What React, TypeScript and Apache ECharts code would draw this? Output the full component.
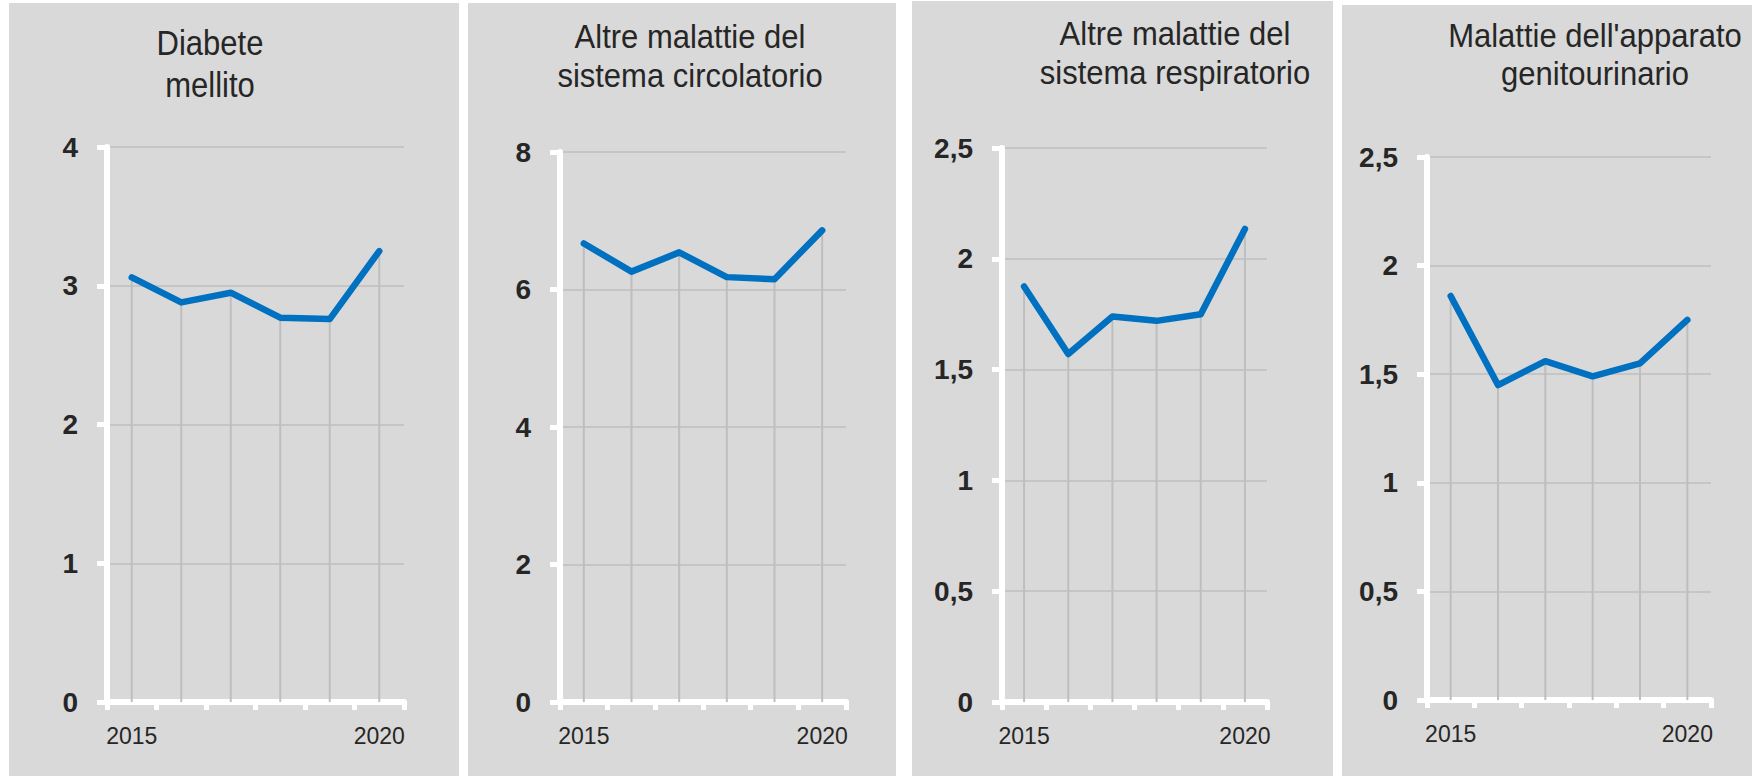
import React, { useEffect, useRef } from "react";
import * as echarts from "echarts";

const years = ["2015", "2016", "2017", "2018", "2019", "2020"];
const diabete = [3.06, 2.88, 2.95, 2.77, 2.76, 3.25];
const circolatorio = [6.67, 6.26, 6.54, 6.18, 6.15, 6.86];
const respiratorio = [1.875, 1.57, 1.74, 1.72, 1.75, 2.135];
const genitourinario = [1.86, 1.45, 1.56, 1.49, 1.55, 1.75];
const titles = [
  "Diabete\nmellito",
  "Altre malattie del\nsistema circolatorio",
  "Altre malattie del\nsistema respiratorio",
  "Malattie dell'apparato\ngenitourinario",
];
const yMax = [4, 8, 2.5, 2.5];
const yStep = [1, 2, 0.5, 0.5];
const seriesData = [diabete, circolatorio, respiratorio, genitourinario];

// layout (pixels)
const panels = [
  { x: 9, y: 3, w: 450, h: 773 },
  { x: 468, y: 3, w: 428, h: 773 },
  { x: 912, y: 1, w: 421, h: 775 },
  { x: 1342, y: 5, w: 410, h: 771 },
];
const grids = [
  { left: 107, top: 147, width: 297, height: 555 },
  { left: 560, top: 152, width: 286, height: 550 },
  { left: 1002, top: 148, width: 265, height: 554 },
  { left: 1427, top: 157, width: 284, height: 543 },
];
const titlePos = [
  { x: 210, y: 64, sy: 1.16 },
  { x: 690, y: 56, sy: 1.1 },
  { x: 1175, y: 53, sy: 1.1 },
  { x: 1595, y: 55, sy: 1.06 },
];

const SANS = "'Liberation Sans', Arial, sans-serif";
const BLUE = "#0070C0";
const GRID = "#BEBEBE";
const TEXT = "#262626";

export default function App() {
  const ref = useRef<HTMLDivElement>(null);
  useEffect(() => {
    if (!ref.current) return;
    const chart = echarts.init(ref.current, undefined, { renderer: "svg" });
    const fmt = (v: number) => String(v).replace(".", ",");
    const option: any = {
      animation: false,
      backgroundColor: "#FFFFFF",
      grid: grids.map((g) => ({ ...g, containLabel: false })),
      xAxis: grids.map((_, i) => ({
        type: "category",
        gridIndex: i,
        data: years,
        boundaryGap: true,
        axisLine: { show: true, lineStyle: { color: "#FFFFFF", width: 6 } },
        axisTick: { show: true, interval: 0, length: 8, lineStyle: { color: "#FFFFFF", width: 5 } },
        axisLabel: {
          interval: (idx: number) => idx === 0 || idx === years.length - 1,
          color: TEXT,
          fontFamily: SANS,
          fontSize: 23,
          margin: 22,
        },
        splitLine: { show: false },
      })),
      yAxis: grids.map((_, i) => ({
        type: "value",
        gridIndex: i,
        min: 0,
        max: yMax[i],
        interval: yStep[i],
        axisLine: { show: true, lineStyle: { color: "#FFFFFF", width: 6 } },
        axisTick: { show: true, length: 10, lineStyle: { color: "#FFFFFF", width: 5 } },
        axisLabel: {
          color: TEXT,
          fontFamily: SANS,
          fontWeight: "bold",
          fontSize: 28,
          margin: 29,
          formatter: fmt,
        },
        splitLine: { show: true, lineStyle: { color: GRID, width: 1.5 } },
      })),
      series: seriesData.flatMap((d, i) => [
        {
          type: "bar",
          xAxisIndex: i,
          yAxisIndex: i,
          data: d,
          barWidth: 2,
          itemStyle: { color: GRID },
          silent: true,
          z: 1,
        },
        {
          type: "line",
          xAxisIndex: i,
          yAxisIndex: i,
          data: d,
          showSymbol: false,
          lineStyle: { color: BLUE, width: 6.5, cap: "round", join: "round" },
          z: 5,
        },
      ]),
      graphic: {
        elements: [
          ...panels.map((p) => ({
            type: "rect",
            shape: { x: p.x, y: p.y, width: p.w, height: p.h },
            style: { fill: "#D9D9D9" },
            z: -100,
            silent: true,
          })),
          ...titles.map((t, i) => ({
            type: "text",
            x: titlePos[i].x,
            y: titlePos[i].y,
            scaleY: titlePos[i].sy,
            z: 100,
            style: {
              text: t,
              fill: TEXT,
              fontSize: 31,
              fontFamily: SANS,
              lineHeight: 36,
              align: "center",
              verticalAlign: "middle",
            },
          })),
        ],
      },
    };
    chart.setOption(option);
    return () => chart.dispose();
  }, []);
  return (
    <div
      ref={ref}
      style={{ position: "absolute", left: 0, top: 0, width: 1752, height: 776, background: "#fff" }}
    />
  );
}
